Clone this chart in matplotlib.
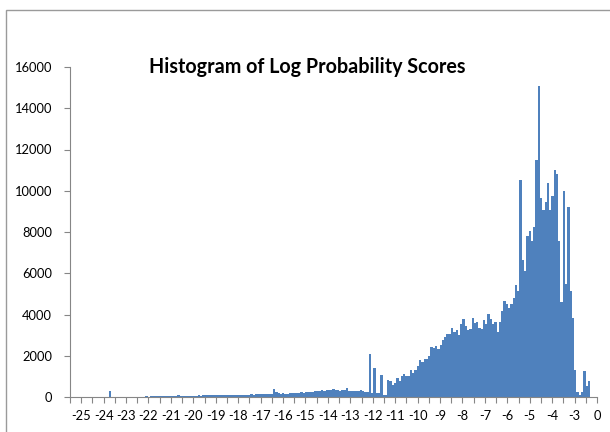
import matplotlib
matplotlib.use("Agg")
import matplotlib.pyplot as plt
import numpy as np
from matplotlib.patches import Rectangle

plt.rcParams["font.family"] = ["Lato", "DejaVu Sans"]

# bin counts, one per 0.1-wide bin starting just below -25
counts = [
    0, 0, 0, 0, 0, 0, 0, 0, 0, 0,
    0, 0, 0, 0, 0, 0, 0, 270, 0, 0,
    0, 0, 0, 0, 0, 0, 0, 0, 0, 0,
    15, 20, 15, 25, 20, 30, 25, 30, 35, 30,
    40, 35, 45, 40, 50, 45, 50, 110, 55, 50,
    60, 55, 65, 60, 70, 65, 75, 70, 80, 75,
    80, 85, 80, 90, 85, 95, 90, 100, 95, 100,
    105, 100, 110, 105, 115, 110, 120, 115, 120, 125,
    120, 130, 125, 135, 130, 140, 135, 145, 150, 400,
    220, 200, 150, 180, 160, 150, 170, 210, 200, 215,
    210, 220, 210, 230, 225, 240, 260, 280, 270, 310,
    320, 300, 330, 320, 340, 370, 330, 320, 310, 330,
    320, 450, 290, 280, 310, 290, 300, 320, 290, 250,
    260, 2070, 180, 1390, 180, 170, 1070, 100, 100, 820,
    780, 580, 660, 900, 780, 1040, 1100, 1040, 1040, 1310,
    1150, 1310, 1520, 1790, 1710, 1840, 1840, 2000, 2420, 2400,
    2470, 2310, 2500, 2760, 2920, 3060, 3060, 3330, 3140, 3250,
    3010, 3530, 3770, 3440, 3250, 3280, 3820, 3600, 3620, 3330,
    3280, 3730, 3540, 4010, 3770, 3530, 3620, 3170, 3620, 4190,
    4660, 4510, 4330, 4530, 4790, 5430, 5160, 10520, 6650, 6120,
    7810, 8070, 7570, 8250, 11490, 15080, 9670, 9070, 9470, 10360,
    9070, 9750, 11010, 10830, 7570, 4620, 10010, 5480, 9200, 5160,
    3850, 1290, 250, 100, 250, 1260, 530, 770, 0, 0,
    0,
]

x_labels = [str(v) for v in range(-25, -2)] + ["0"]
y_ticks = list(range(0, 16001, 2000))

bar_color = "#4F81BD"
axis_color = "#868686"

fig = plt.figure(figsize=(6.1, 4.32), dpi=100)
ax = fig.add_axes([70 / 610, 35 / 432, 527 / 610, 330 / 432])

x = np.arange(len(counts)) + 0.5
ax.bar(x, counts, width=1.0, color=bar_color, linewidth=0)

# category-style axis: 47 tick intervals, a label on every other tick
n_bins = len(counts)
n_intervals = 2 * len(x_labels) - 1
tick_pos = np.linspace(0, n_bins, n_intervals + 1)
tick_text = [""] * len(tick_pos)
for k, lab in enumerate(x_labels):
    tick_text[min(2 * k + 1, n_intervals)] = lab
ax.set_xticks(tick_pos)
ax.set_xticklabels(tick_text)
ax.set_xlim(0, n_bins)

ax.set_ylim(0, 16000)
ax.set_yticks(y_ticks)
ax.set_yticklabels([str(v) for v in y_ticks])

for side in ["top", "right"]:
    ax.spines[side].set_visible(False)
for side in ["left", "bottom"]:
    ax.spines[side].set_color(axis_color)
    ax.spines[side].set_linewidth(0.8)

ax.tick_params(axis="both", direction="out", length=4, width=0.8,
               color=axis_color, labelsize=9.3, labelcolor="black")
ax.tick_params(axis="x", pad=5)
ax.tick_params(axis="y", pad=9)

fig.text(307 / 610, 1 - 67 / 432, "Histogram of Log Probability Scores",
         ha="center", va="center", fontsize=14.2, fontweight="bold")

# chart area border
fig.patches.append(Rectangle((6 / 610, -0.05), 1.0, 1 - 10 / 432 + 0.05,
                             transform=fig.transFigure, fill=False,
                             edgecolor="#9A9A9A", linewidth=1.0))

fig.savefig("out.png", dpi=100)
plt.close(fig)
